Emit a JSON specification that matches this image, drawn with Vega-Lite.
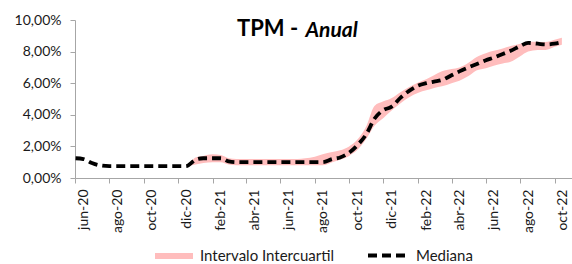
{
  "$schema": "https://vega.github.io/schema/vega-lite/v6.json",
  "width": 497,
  "height": 158,
  "autosize": "none",
  "padding": {"left": 75, "top": 20, "right": 0, "bottom": 86},
  "background": "white",
  "title": {
    "text": "TPM -",
    "subtitle": "\u200b\u00a0\u00a0\u00a0\u00a0\u00a0\u00a0\u00a0\u00a0\u00a0\u00a0\u00a0\u00a0\u00a0\u00a0\u00a0Anual",
    "anchor": "start",
    "frame": "group",
    "dx": 162,
    "offset": -29,
    "font": "Lato",
    "fontSize": 22,
    "fontWeight": "bold",
    "color": "black",
    "subtitleFont": "Lato",
    "subtitleFontSize": 21,
    "subtitleFontStyle": "italic",
    "subtitleFontWeight": "bold",
    "subtitleColor": "black",
    "subtitlePadding": -21
  },
  "data": {
    "values": [
      {"date": "2020-06-02", "lo": 1.25, "med": 1.25, "hi": 1.25},
      {"date": "2020-06-16", "lo": 1.2, "med": 1.2, "hi": 1.2},
      {"date": "2020-07-01", "lo": 0.95, "med": 0.95, "hi": 0.95},
      {"date": "2020-07-15", "lo": 0.8, "med": 0.8, "hi": 0.8},
      {"date": "2020-08-01", "lo": 0.75, "med": 0.75, "hi": 0.75},
      {"date": "2020-08-15", "lo": 0.75, "med": 0.75, "hi": 0.75},
      {"date": "2020-09-01", "lo": 0.75, "med": 0.75, "hi": 0.75},
      {"date": "2020-09-15", "lo": 0.75, "med": 0.75, "hi": 0.75},
      {"date": "2020-10-01", "lo": 0.75, "med": 0.75, "hi": 0.75},
      {"date": "2020-10-15", "lo": 0.75, "med": 0.75, "hi": 0.75},
      {"date": "2020-11-01", "lo": 0.75, "med": 0.75, "hi": 0.75},
      {"date": "2020-11-15", "lo": 0.75, "med": 0.75, "hi": 0.75},
      {"date": "2020-12-01", "lo": 0.75, "med": 0.75, "hi": 0.75},
      {"date": "2020-12-15", "lo": 0.75, "med": 0.75, "hi": 0.75},
      {"date": "2021-01-01", "lo": 0.85, "med": 1.15, "hi": 1.3},
      {"date": "2021-01-15", "lo": 0.95, "med": 1.25, "hi": 1.4},
      {"date": "2021-02-01", "lo": 1.0, "med": 1.25, "hi": 1.5},
      {"date": "2021-02-15", "lo": 1.0, "med": 1.25, "hi": 1.45},
      {"date": "2021-03-01", "lo": 0.85, "med": 1.05, "hi": 1.25},
      {"date": "2021-03-15", "lo": 0.8, "med": 1.0, "hi": 1.2},
      {"date": "2021-04-01", "lo": 0.8, "med": 1.0, "hi": 1.2},
      {"date": "2021-04-15", "lo": 0.8, "med": 1.0, "hi": 1.2},
      {"date": "2021-05-01", "lo": 0.8, "med": 1.0, "hi": 1.2},
      {"date": "2021-05-15", "lo": 0.8, "med": 1.0, "hi": 1.2},
      {"date": "2021-06-01", "lo": 0.8, "med": 1.0, "hi": 1.2},
      {"date": "2021-06-15", "lo": 0.8, "med": 1.0, "hi": 1.2},
      {"date": "2021-07-01", "lo": 0.8, "med": 1.0, "hi": 1.2},
      {"date": "2021-07-15", "lo": 0.8, "med": 1.0, "hi": 1.25},
      {"date": "2021-08-01", "lo": 0.8, "med": 1.0, "hi": 1.35},
      {"date": "2021-08-15", "lo": 0.8, "med": 1.0, "hi": 1.5},
      {"date": "2021-09-01", "lo": 1.0, "med": 1.2, "hi": 1.65},
      {"date": "2021-09-15", "lo": 1.15, "med": 1.3, "hi": 1.75},
      {"date": "2021-10-01", "lo": 1.4, "med": 1.6, "hi": 2.0},
      {"date": "2021-10-15", "lo": 1.75, "med": 2.05, "hi": 2.4},
      {"date": "2021-11-01", "lo": 2.5, "med": 2.8, "hi": 3.3},
      {"date": "2021-11-15", "lo": 3.3, "med": 3.75, "hi": 4.55},
      {"date": "2021-12-01", "lo": 3.8, "med": 4.3, "hi": 4.85},
      {"date": "2021-12-15", "lo": 4.25, "med": 4.5, "hi": 5.05},
      {"date": "2022-01-01", "lo": 4.75, "med": 5.1, "hi": 5.45},
      {"date": "2022-01-15", "lo": 5.1, "med": 5.5, "hi": 5.75},
      {"date": "2022-02-01", "lo": 5.4, "med": 5.85, "hi": 6.05},
      {"date": "2022-02-15", "lo": 5.55, "med": 6.0, "hi": 6.25},
      {"date": "2022-03-01", "lo": 5.7, "med": 6.1, "hi": 6.5},
      {"date": "2022-03-15", "lo": 5.8, "med": 6.2, "hi": 6.75},
      {"date": "2022-04-01", "lo": 6.0, "med": 6.5, "hi": 6.9},
      {"date": "2022-04-15", "lo": 6.15, "med": 6.75, "hi": 7.0},
      {"date": "2022-05-01", "lo": 6.45, "med": 7.0, "hi": 7.3},
      {"date": "2022-05-15", "lo": 6.8, "med": 7.2, "hi": 7.65},
      {"date": "2022-06-01", "lo": 6.95, "med": 7.45, "hi": 7.9},
      {"date": "2022-06-15", "lo": 7.1, "med": 7.62, "hi": 8.05},
      {"date": "2022-07-01", "lo": 7.25, "med": 7.85, "hi": 8.2},
      {"date": "2022-07-15", "lo": 7.35, "med": 8.05, "hi": 8.35},
      {"date": "2022-08-01", "lo": 7.7, "med": 8.35, "hi": 8.5},
      {"date": "2022-08-15", "lo": 8.0, "med": 8.55, "hi": 8.63},
      {"date": "2022-09-01", "lo": 8.1, "med": 8.5, "hi": 8.63},
      {"date": "2022-09-15", "lo": 8.1, "med": 8.45, "hi": 8.6},
      {"date": "2022-10-01", "lo": 8.3, "med": 8.5, "hi": 8.75},
      {"date": "2022-10-14", "lo": 8.43, "med": 8.6, "hi": 8.88}
    ]
  },
  "encoding": {
    "x": {
      "field": "date",
      "type": "temporal",
      "scale": {
        "type": "utc",
        "domain": [
          {"year": 2020, "month": 6, "date": 1, "utc": true},
          {"year": 2022, "month": 11, "date": 1, "utc": true}
        ]
      },
      "axis": {
        "title": null,
        "grid": false,
        "values": [
          {"year": 2020, "month": 6, "date": 1, "utc": true},
          {"year": 2020, "month": 8, "date": 1, "utc": true},
          {"year": 2020, "month": 10, "date": 1, "utc": true},
          {"year": 2020, "month": 12, "date": 1, "utc": true},
          {"year": 2021, "month": 2, "date": 1, "utc": true},
          {"year": 2021, "month": 4, "date": 1, "utc": true},
          {"year": 2021, "month": 6, "date": 1, "utc": true},
          {"year": 2021, "month": 8, "date": 1, "utc": true},
          {"year": 2021, "month": 10, "date": 1, "utc": true},
          {"year": 2021, "month": 12, "date": 1, "utc": true},
          {"year": 2022, "month": 2, "date": 1, "utc": true},
          {"year": 2022, "month": 4, "date": 1, "utc": true},
          {"year": 2022, "month": 6, "date": 1, "utc": true},
          {"year": 2022, "month": 8, "date": 1, "utc": true},
          {"year": 2022, "month": 10, "date": 1, "utc": true}
        ],
        "labelExpr": "['ene','feb','mar','abr','may','jun','jul','ago','sep','oct','nov','dic'][utcmonth(datum.value)] + '-' + utcFormat(datum.value, '%y')",
        "labelAngle": -90,
        "labelOffset": 8,
        "labelPadding": 6,
        "tickSize": 5,
        "labelFlush": false,
        "labelOverlap": false,
        "labelBound": false
      }
    }
  },
  "layer": [
    {
      "mark": {"type": "area", "interpolate": "monotone", "opacity": 1},
      "encoding": {
        "y": {
          "field": "lo",
          "type": "quantitative",
          "scale": {"domain": [0, 10], "nice": false, "zero": true},
          "axis": {
            "title": null,
            "grid": false,
            "values": [0, 2, 4, 6, 8, 10],
            "labelExpr": "replace(format(datum.value, '.2f'), '.', ',') + '%'",
            "tickSize": 5,
            "labelPadding": 9,
            "labelOverlap": false,
            "labelFlush": false,
            "labelBound": false
          }
        },
        "y2": {"field": "hi"},
        "fill": {
          "datum": "Intervalo Intercuartil",
          "type": "nominal",
          "scale": {"range": ["#ffbdbd"]},
          "legend": {
            "orient": "none",
            "legendX": 80,
            "legendY": 217,
            "title": null,
            "symbolType": "M-1,-0.16L1,-0.16L1,0.16L-1,0.16Z",
            "symbolSize": 1444,
            "symbolStrokeWidth": 0,
            "labelOffset": 7,
            "padding": 0
          }
        }
      }
    },
    {
      "mark": {"type": "line", "interpolate": "monotone", "stroke": "black", "strokeWidth": 3.8},
      "encoding": {
        "y": {
          "field": "med",
          "type": "quantitative",
          "scale": {"domain": [0, 10], "nice": false, "zero": true},
          "axis": {
            "title": null,
            "grid": false,
            "values": [0, 2, 4, 6, 8, 10],
            "labelExpr": "replace(format(datum.value, '.2f'), '.', ',') + '%'",
            "tickSize": 5,
            "labelPadding": 9,
            "labelOverlap": false,
            "labelFlush": false,
            "labelBound": false
          }
        },
        "strokeDash": {
          "datum": "Mediana",
          "type": "nominal",
          "scale": {"range": [[9, 5]]},
          "legend": {
            "orient": "none",
            "legendX": 291,
            "legendY": 214,
            "title": null,
            "symbolType": "stroke",
            "symbolSize": 1521,
            "symbolStrokeWidth": 3.8,
            "symbolStrokeColor": "black",
            "labelOffset": 7,
            "padding": 0
          }
        }
      }
    }
  ],
  "config": {
    "view": {"stroke": null},
    "font": "Lato",
    "axis": {
      "labelFont": "Lato",
      "labelFontSize": 14,
      "labelColor": "#1a1a1a",
      "domainColor": "#a6a6a6",
      "tickColor": "#a6a6a6",
      "domainWidth": 1,
      "tickWidth": 1,
      "labelOverlap": false
    },
    "legend": {
      "labelFont": "Lato",
      "labelFontSize": 15,
      "labelColor": "#1a1a1a"
    }
  }
}
